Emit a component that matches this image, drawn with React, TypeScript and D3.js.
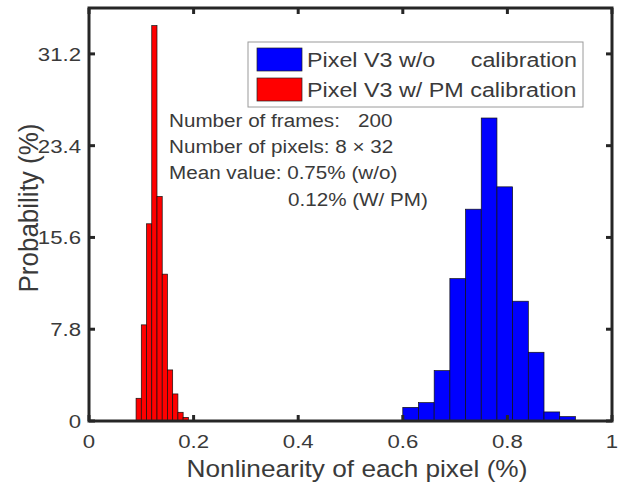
import React from "react";
import * as d3 from "d3";

const xTicks = [0, 0.2, 0.4, 0.6, 0.8, 1];
const xTickLabels = ["0", "0.2", "0.4", "0.6", "0.8", "1"];
const yTicks = [0, 7.8, 15.6, 23.4, 31.2];
const yTickLabels = ["0", "7.8", "15.6", "23.4", "31.2"];

// Red: Pixel V3 w/ PM calibration (bin width 0.01)
const redBinStarts = [0.09, 0.1, 0.11, 0.12, 0.13, 0.14, 0.15, 0.16, 0.17, 0.18];
const redValues = [1.93, 8.17, 16.76, 33.6, 19.08, 12.48, 4.34, 2.3, 0.74, 0.31];
const redBinWidth = 0.01;

// Blue: Pixel V3 w/o calibration (bin width 0.03)
const blueBinStarts = [0.6, 0.63, 0.66, 0.69, 0.72, 0.75, 0.78, 0.81, 0.84, 0.87, 0.9];
const blueValues = [1.16, 1.56, 4.28, 12.1, 18.0, 25.75, 19.9, 10.18, 5.84, 0.77, 0.37];
const blueBinWidth = 0.03;

const legendLabels = ["Pixel V3 w/o", "calibration", "Pixel V3 w/ PM calibration"];
const annotationLines = [
  "Number of frames:",
  "200",
  "Number of pixels: 8 \u00d7 32",
  "Mean value: 0.75% (w/o)",
  "0.12% (W/ PM)",
];

const W = 630;
const H = 485;
const L = 89, R = 612, T = 8, B = 421;
const FONT = "'Liberation Sans', Arial, Helvetica, sans-serif";
const TXT = "#3a3a3a";
const AX = "#262626";

function SText({ x, y, sx = 1.2, size = 18, anchor = "start", children }: any) {
  return (
    <g transform={`translate(${x},${y}) scale(${sx},1)`}>
      <text x={0} y={0} fontSize={size} fontFamily={FONT} fill={TXT} textAnchor={anchor}>
        {children}
      </text>
    </g>
  );
}

export default function App() {
  const x = d3.scaleLinear().domain([0, 1]).range([L, R]);
  const y = d3.scaleLinear().domain([0, 35.1]).range([B, T]);
  const tickLen = 6;

  const bars = (starts: number[], vals: number[], w: number, color: string, key: string) =>
    starts.map((s, i) => (
      <rect
        key={key + i}
        x={x(s)}
        y={y(vals[i])}
        width={x(s + w) - x(s)}
        height={y(0) - y(vals[i])}
        fill={color}
        stroke="#111"
        strokeWidth={0.7}
      />
    ));

  return (
    <svg width={W} height={H} style={{ position: "absolute", left: 0, top: 0, background: "#fff" }}>
      <rect x={0} y={0} width={W} height={H} fill="#fff" />
      {bars(redBinStarts, redValues, redBinWidth, "#ff0000", "r")}
      {bars(blueBinStarts, blueValues, blueBinWidth, "#0000ff", "b")}

      {xTicks.map((t, i) => (
        <g key={"xt" + i}>
          <line x1={x(t)} x2={x(t)} y1={B} y2={B - tickLen} stroke={AX} strokeWidth={3} />
          <line x1={x(t)} x2={x(t)} y1={T} y2={T + tickLen} stroke={AX} strokeWidth={3} />
          <SText x={x(t)} y={448} anchor="middle" sx={1.2} size={18.5}>
            {xTickLabels[i]}
          </SText>
        </g>
      ))}
      {yTicks.map((t, i) => (
        <g key={"yt" + i}>
          <line x1={L} x2={L + tickLen} y1={y(t)} y2={y(t)} stroke={AX} strokeWidth={3} />
          <line x1={R} x2={R - tickLen} y1={y(t)} y2={y(t)} stroke={AX} strokeWidth={3} />
          <SText x={81} y={y(t) + 7} anchor="end" sx={1.2} size={18.5}>
            {yTickLabels[i]}
          </SText>
        </g>
      ))}

      <rect x={L} y={T} width={R - L} height={B - T} fill="none" stroke={AX} strokeWidth={3} />

      <SText x={357} y={477} anchor="middle" sx={1.07} size={24.5}>
        Nonlinearity of each pixel (%)
      </SText>
      <g transform={`translate(38,208) rotate(-90) scale(1,1.07)`}>
        <text x={0} y={0} fontSize={26} fontFamily={FONT} fill={TXT} textAnchor="middle">
          Probability (%)
        </text>
      </g>

      <rect x={248} y={42} width={335} height={65} fill="#fff" stroke="#9a9a9a" strokeWidth={1} />
      <rect x={257} y={48} width={45} height={23} fill="#0000ff" stroke="#222" strokeWidth={0.7} />
      <rect x={257} y={78} width={45} height={23} fill="#ff0000" stroke="#222" strokeWidth={0.7} />
      <SText x={307} y={66.5} sx={1.19} size={19.6}>{legendLabels[0]}</SText>
      <SText x={577} y={66.5} sx={1.19} size={19.6} anchor="end">{legendLabels[1]}</SText>
      <SText x={307} y={96.5} sx={1.19} size={19.6}>{legendLabels[2]}</SText>

      <SText x={169} y={126.7} sx={1.16} size={17.8}>{annotationLines[0]}</SText>
      <SText x={358} y={126.7} sx={1.16} size={17.8}>{annotationLines[1]}</SText>
      <SText x={169} y={153.3} sx={1.16} size={17.8}>{annotationLines[2]}</SText>
      <SText x={169} y={179.3} sx={1.16} size={17.8}>{annotationLines[3]}</SText>
      <SText x={288} y={206} sx={1.16} size={17.8}>{annotationLines[4]}</SText>
    </svg>
  );
}
